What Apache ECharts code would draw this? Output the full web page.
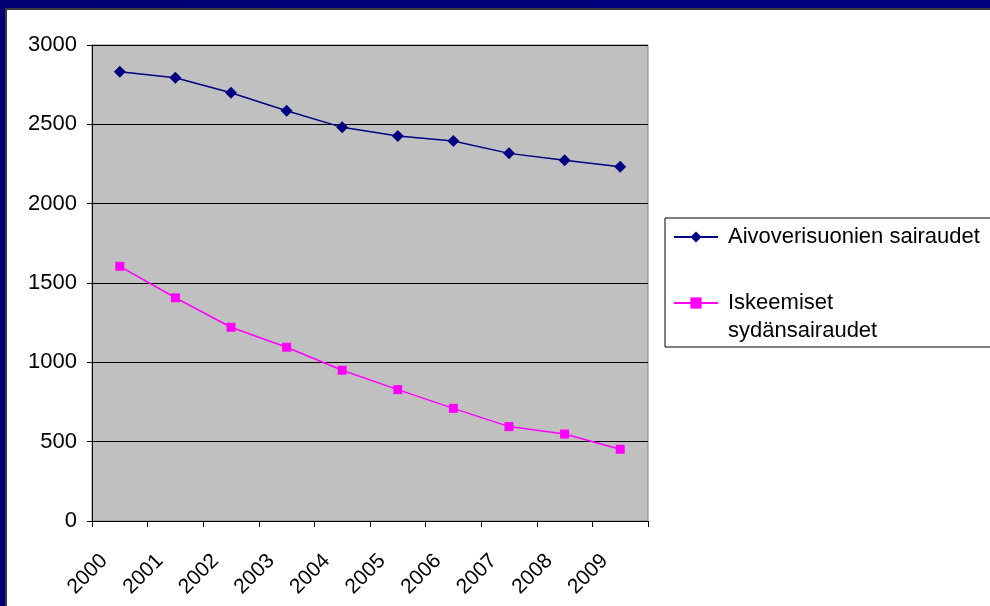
<!DOCTYPE html>
<html>
<head>
<meta charset="utf-8">
<script src="https://cdn.jsdelivr.net/npm/echarts@6/dist/echarts.min.js"></script>
<style>
  html, body { margin: 0; padding: 0; width: 990px; height: 606px; overflow: hidden;
    background: linear-gradient(90deg, #000074 0%, #000080 100%); }
  #frame { position: absolute; left: 5px; top: 8px; width: 990px; height: 606px;
    background: #fff; border-left: 2px solid #3a3a3a; border-top: 2px solid #3a3a3a; }
  #chart { position: absolute; left: 0; top: 0; width: 990px; height: 606px; }
</style>
</head>
<body>
<div id="frame"></div>
<div id="chart"></div>
<script>
// Years on the category axis
const years = ['2000', '2001', '2002', '2003', '2004', '2005', '2006', '2007', '2008', '2009'];

// Series names
const nameAivo = 'Aivoverisuonien sairaudet';
const nameSydan = 'Iskeemiset sydänsairaudet';

// Yearly values
const aivoverisuonien = [2832, 2793, 2699, 2586, 2481, 2426, 2395, 2317, 2273, 2233];
const iskeemiset = [1605, 1407, 1221, 1095, 950, 828, 710, 595, 548, 452];

// Value axis range
const yMin = 0, yMax = 3000, yStep = 500;

const font = "'Liberation Sans', Arial, sans-serif";

const chart = echarts.init(document.getElementById('chart'), null, { renderer: 'canvas' });

chart.setOption({
  animation: false,
  textStyle: { fontFamily: font },
  grid: {
    left: 92, right: 342, top: 45, bottom: 85,
    show: true,
    backgroundColor: '#c0c0c0',
    borderColor: '#808080',
    borderWidth: 1
  },
  legend: {
    orient: 'vertical',
    left: 665, top: 218,
    itemWidth: 44, itemHeight: 14, itemGap: 10,
    padding: [5, 40, 2, 8],
    borderColor: '#000', borderWidth: 1,
    backgroundColor: '#fff',
    textStyle: { fontSize: 22, fontFamily: font, color: '#000', lineHeight: 28, padding: [0, 0, 0, 5] },
    formatter: function (name) {
      return name === nameSydan ? '\nIskeemiset\nsydänsairaudet' : name;
    },
    data: [nameAivo, nameSydan]
  },
  xAxis: {
    type: 'category',
    data: years,
    boundaryGap: true,
    axisLine: { lineStyle: { color: '#000', width: 1 } },
    axisTick: { show: true, length: 6, interval: 0, lineStyle: { color: '#000' } },
    axisLabel: { rotate: 45, fontSize: 21, color: '#000', fontFamily: font, margin: 21, padding: [0, 22, 0, 0], interval: 0 },
    splitLine: { show: false }
  },
  yAxis: {
    type: 'value',
    min: yMin, max: yMax, interval: yStep,
    axisLine: { show: true, lineStyle: { color: '#000', width: 1 } },
    axisTick: { show: true, length: 5, lineStyle: { color: '#000' } },
    axisLabel: { fontSize: 22, color: '#000', fontFamily: font, margin: 15, formatter: function (v) { return String(v); } },
    splitLine: { show: true, lineStyle: { color: '#000', width: 1 } }
  },
  series: [
    {
      name: nameAivo,
      type: 'line',
      data: aivoverisuonien,
      symbol: 'diamond',
      symbolSize: 12,
      color: '#000080',
      itemStyle: { color: '#000080' },
      lineStyle: { color: '#000080', width: 1.5 }
    },
    {
      name: nameSydan,
      type: 'line',
      data: iskeemiset,
      symbol: 'rect',
      symbolSize: 9,
      color: '#ff00ff',
      itemStyle: { color: '#ff00ff' },
      lineStyle: { color: '#ff00ff', width: 1.5 }
    }
  ]
});
</script>
</body>
</html>
